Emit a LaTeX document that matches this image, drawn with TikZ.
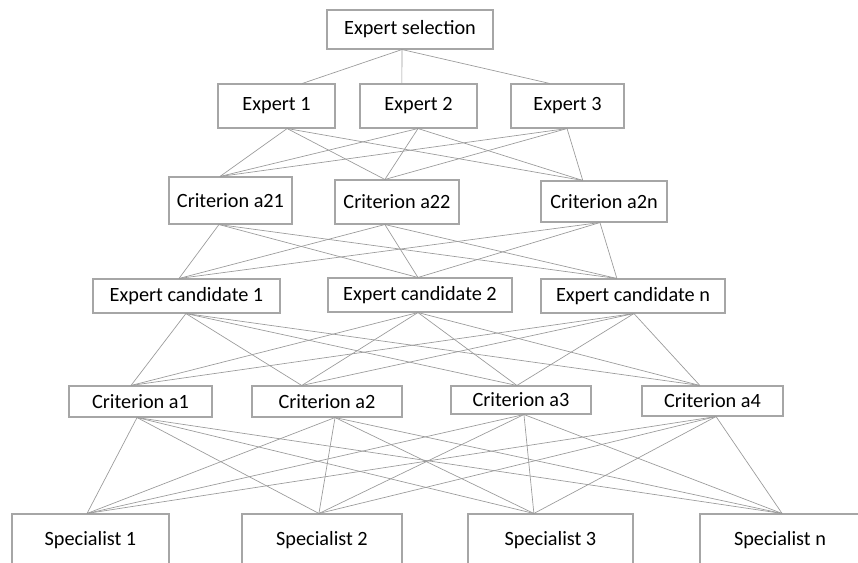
\documentclass[tikz,border=0pt]{standalone}
\usepackage{fontspec}
\setmainfont{Carlito}
\usetikzlibrary{calc}
\definecolor{boxgray}{HTML}{A6A6A6}
\definecolor{linegray}{HTML}{9A9A9A}
\tikzset{
  box/.style={draw=boxgray, line width=0.8pt, inner sep=0pt, fill=white,
              font=\fontsize{15.2pt}{18pt}\selectfont, text=black},
  conn/.style={draw=linegray, line width=0.5pt}
}
\newcommand\mkbox[8]{%
  \pgfmathsetmacro\bw{(#4-#2)*0.75}%
  \pgfmathsetmacro\bh{(#5-#3)*0.75}%
  \node[box, minimum width=\bw pt, minimum height=\bh pt] (#1) at ({(#2+#4)/2},{(#3+#5)/2}) {#6};
  \coordinate (#1-t) at ($(#1.north west)!#7!(#1.north east)$);
  \coordinate (#1-b) at ($(#1.south west)!#8!(#1.south east)$);}
\begin{document}
\begin{tikzpicture}[x=0.75pt,y=-0.75pt]
\useasboundingbox (0,0) rectangle (858,562);
\clip (0,0) rectangle (858,562);
\fill[white] (0,0) rectangle (858,562);
% boxes
\mkbox{es}{327}{10}{493}{49}{Expert selection}{0.5}{0.452}
\mkbox{e1}{218}{84}{335}{128}{Expert 1}{0.718}{0.59}
\mkbox{e2}{360}{84}{477}{128}{Expert 2}{0.359}{0.496}
\mkbox{e3}{511}{84}{624}{128}{Expert 3}{0.345}{0.496}
\mkbox{a21}{169}{177}{292}{224}{Criterion a21}{0.415}{0.407}
\mkbox{a22}{335}{180}{459}{224}{Criterion a22}{0.403}{0.403}
\mkbox{a2n}{541}{181}{667}{222}{Criterion a2n}{0.333}{0.468}
\mkbox{ec1}{93}{279}{280}{313}{Expert candidate 1}{0.46}{0.497}
\mkbox{ec2}{328}{278}{512}{312}{Expert candidate 2}{0.489}{0.489}
\mkbox{ecn}{541}{279}{725}{313}{Expert candidate n}{0.413}{0.505}
\mkbox{ca1}{69}{386}{212}{417}{Criterion a1}{0.434}{0.476}
\mkbox{ca2}{252}{386}{402}{417}{Criterion a2}{0.333}{0.553}
\mkbox{ca3}{451}{386}{591}{414}{Criterion a3}{0.471}{0.521}
\mkbox{ca4}{642}{386}{783}{416}{Criterion a4}{0.411}{0.525}
\mkbox{s1}{12}{514}{169}{567}{Specialist 1}{0.478}{0.5}
\mkbox{s2}{242}{514}{402}{567}{Specialist 2}{0.481}{0.5}
\mkbox{s3}{468}{514}{633}{567}{Specialist 3}{0.4}{0.5}
\mkbox{sn}{700}{514}{860}{567}{Specialist n}{0.513}{0.5}
% connectors
\foreach \b in {e1,e2,e3} \draw[conn] (es-b) -- (\b-t);
\foreach \a in {e1,e2,e3} \foreach \b in {a21,a22,a2n} \draw[conn] (\a-b) -- (\b-t);
\foreach \a in {a21,a22,a2n} \foreach \b in {ec1,ec2,ecn} \draw[conn] (\a-b) -- (\b-t);
\foreach \a in {ec1,ec2,ecn} \foreach \b in {ca1,ca2,ca3,ca4} \draw[conn] (\a-b) -- (\b-t);
\foreach \a in {ca1,ca2,ca3,ca4} \foreach \b in {s1,s2,s3,sn} \draw[conn] (\a-b) -- (\b-t);
\end{tikzpicture}
\end{document}
